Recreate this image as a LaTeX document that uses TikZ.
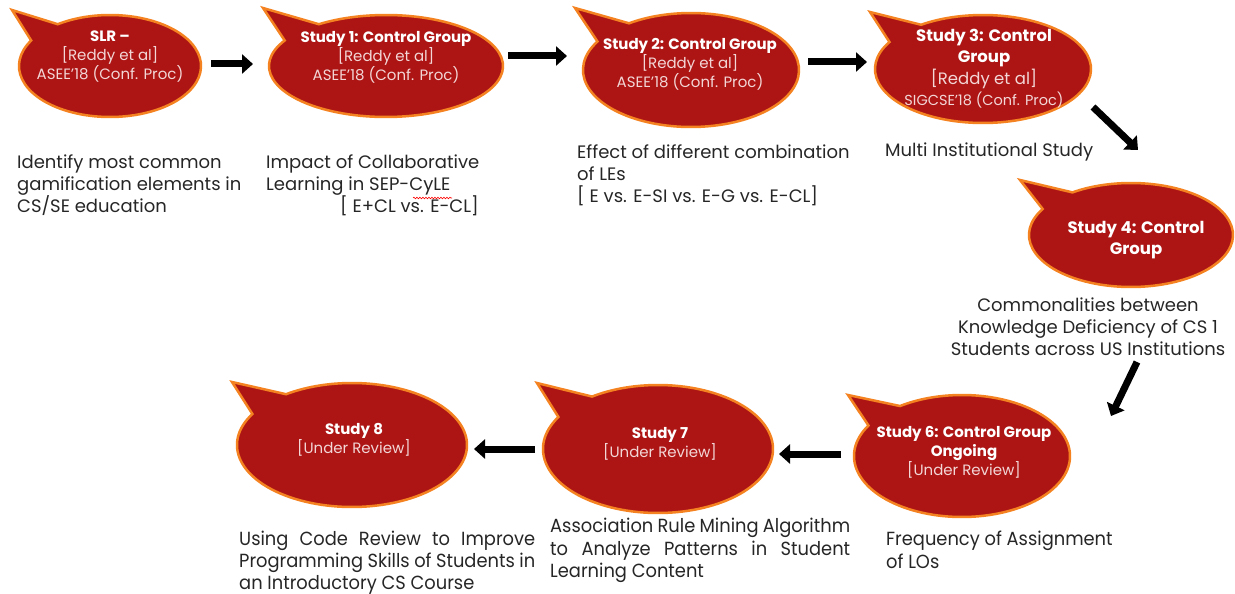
\documentclass[tikz,border=0pt]{standalone}
\usepackage{fontspec}
\setmainfont{Poppins}
\newfontfamily\condfont[FakeStretch=0.94]{Poppins}
\usetikzlibrary{arrows.meta,calc,decorations.pathmorphing}
\definecolor{bubred}{HTML}{AD1515}
\definecolor{bubedge}{HTML}{F58220}
\definecolor{txtgray}{HTML}{262626}
\definecolor{pinkw}{HTML}{F3D6D6}
\tikzset{
  bubble/.style={fill=bubred, draw=bubedge, line width=2.5pt, line join=miter},
  btext/.style={text=pinkw, align=center, inner sep=0pt, font=\fontsize{15}{19}\selectfont},
  btextbig/.style={text=pinkw, align=center, inner sep=0pt, font=\fontsize{16.5}{21.5}\selectfont},
  desc/.style={text=txtgray, align=left, inner sep=0pt, anchor=north west, font=\fontsize{18}{22}\selectfont},
  cdesc/.style={text=txtgray, align=left, inner sep=0pt, anchor=north west, font=\condfont\fontsize{19}{22.5}\selectfont},
  blockarrow/.style={line width=7pt, -{Triangle[length=11pt,width=19pt]}},
}
\newcommand\drawbubble[6]{%
  \draw[bubble] ($(#1,#2)+(125:#3pt and #4pt)$) -- (#5,#6) -- ($(#1,#2)+(150:#3pt and #4pt)$)
    arc[start angle=150, end angle=485, x radius=#3pt, y radius=#4pt] -- cycle;}
\begin{document}
\begin{tikzpicture}[x=1pt,y=1pt]
\useasboundingbox (0,0) rectangle (1235,-594);
% bubbles
\drawbubble{110}{-66}{91}{51}{12}{-10}
\drawbubble{386}{-66}{117}{51}{263}{-8}
\drawbubble{691}{-70}{108}{57}{575}{-8}
\drawbubble{983}{-69}{108}{54}{870}{-12}
\drawbubble{1131}{-235}{102}{52}{1020}{-180}
\drawbubble{962}{-456}{108}{61}{848}{-395}
\drawbubble{658}{-449}{115}{64}{537}{-383}
\drawbubble{352}{-445}{115}{62}{232}{-382}
% bubble texts
\node[btext] (b0) at (110,-56.5) {{\bfseries\color{white}SLR –}\\{}[Reddy et al]\\ASEE'18 (Conf. Proc)};
\node[btext] (b1) at (386,-57) {{\bfseries\color{white}Study 1: Control Group}\\{}[Reddy et al]\\ASEE'18 (Conf. Proc)};
\node[btext] (b2) at (690,-64) {{\bfseries\color{white}Study 2: Control Group}\\{}[Reddy et al]\\ASEE'18 (Conf. Proc)};
\node[btextbig] (b3) at (984,-68.5) {{\bfseries\color{white}Study 3: Control}\\{\bfseries\color{white}Group}\\{}[Reddy et al]\\{\fontsize{14.5}{19}\selectfont SIGCSE'18 (Conf. Proc)}};
\node[btextbig] (b4) at (1136,-240) {{\bfseries\color{white}Study 4: Control}\\{\bfseries\color{white}Group}};
\node[btext] (b6) at (964,-452) {{\bfseries\color{white}Study 6: Control Group}\\{\bfseries\color{white}Ongoing}\\{}[Under Review]};
\node[btext] (b7) at (660,-443.5) {{\bfseries\color{white}Study 7}\\{}[Under Review]};
\node[btext] (b8) at (354,-440) {{\bfseries\color{white}Study 8}\\{}[Under Review]};
% descriptions
\node[desc] (d0) at (17,-155) {Identify most common\\gamification elements in\\CS/SE education};
\node[desc] (d1) at (266,-155) {Impact of Collaborative\\Learning in SEP-CyLE\\\hspace*{74pt}[ E+CL vs. E-CL]};
\node[desc] (d2) at (577,-145) {Effect of different combination\\of LEs\\{}[ E vs. E-SI vs. E-G vs. E-CL]};
\node[desc] (d3) at (885,-143) {Multi Institutional Study};
\node[desc, align=center, anchor=north] (d4) at (1088,-298) {Commonalities between\\Knowledge Deficiency of CS 1\\Students across US Institutions};
\node[cdesc] (d6) at (886,-531) {Frequency of Assignment\\of LOs};
\node[cdesc] (d7) at (550,-518) {\makebox[300pt][s]{Association Rule Mining Algorithm}\\\makebox[300pt][s]{to Analyze Patterns in Student}\\Learning Content};
\node[cdesc, font=\condfont\fontsize{19}{22}\selectfont] (d8) at (239,-531) {\makebox[296pt][s]{Using Code Review to Improve}\\\makebox[296pt][s]{Programming Skills of Students in}\\an Introductory CS Course};
% spell-check underline
\coordinate (u1) at (413,-198);
\coordinate (u2) at (452,-198);
\draw[red, line width=0.6pt, decorate, decoration={snake, segment length=3pt, amplitude=0.8pt}] (u1) -- (u2);
% arrows
\coordinate (a1s) at (211,-64); \coordinate (a1e) at (253,-64);
\coordinate (a2s) at (508,-56); \coordinate (a2e) at (567,-56);
\coordinate (a3s) at (808,-62); \coordinate (a3e) at (867,-62);
\coordinate (a4s) at (1093,-107); \coordinate (a4e) at (1138,-150);
\coordinate (a5s) at (1137,-362); \coordinate (a5e) at (1111,-416);
\coordinate (a6s) at (841,-454); \coordinate (a6e) at (779,-454);
\coordinate (a7s) at (535,-449); \coordinate (a7e) at (474,-449);
\foreach \s/\e in {a1s/a1e,a2s/a2e,a3s/a3e,a4s/a4e,a5s/a5e,a6s/a6e,a7s/a7e}
  \draw[blockarrow] (\s) -- (\e);
\end{tikzpicture}
\end{document}
